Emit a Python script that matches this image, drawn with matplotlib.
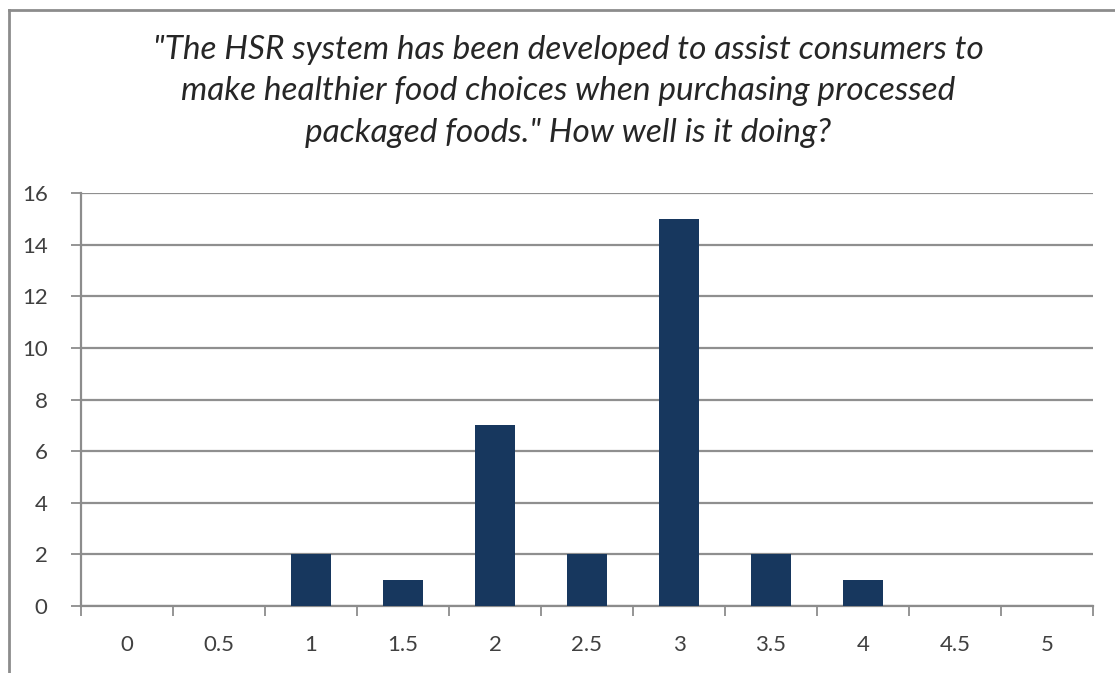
import matplotlib
matplotlib.use("Agg")
import matplotlib.pyplot as plt
from matplotlib.lines import Line2D

categories = ["0", "0.5", "1", "1.5", "2", "2.5", "3", "3.5", "4", "4.5", "5"]
counts = [0, 0, 2, 1, 7, 2, 15, 2, 1, 0, 0]
yticks = [0, 2, 4, 6, 8, 10, 12, 14, 16]
title = ('"The HSR system has been developed to assist consumers to\n'
         'make healthier food choices when purchasing processed\n'
         'packaged foods." How well is it doing?')

plt.rcParams['font.family'] = ['Lato', 'DejaVu Sans']

fig = plt.figure(figsize=(11.15, 6.73), dpi=100)
ax = fig.add_axes([81/1115, 1-606/673, (1093-81)/1115, (606-193)/673])

x = list(range(len(categories)))
ax.bar(x, counts, width=0.43, color='#17375E', zorder=3)
ax.set_xlim(-0.5, len(categories)-0.5)
ax.set_ylim(0, 16)
ax.set_yticks(yticks)
ax.set_yticklabels([str(v) for v in yticks], fontsize=16, color='#404040')
ax.set_xticks(x)
ax.set_xticklabels(categories, fontsize=16, color='#404040')
ax.tick_params(axis='x', length=0, pad=21)
ax.tick_params(axis='y', length=7, width=1.3, color='#8c8c8c', pad=17)
ax.set_xticks([i - 0.5 for i in range(len(categories)+1)], minor=True)
ax.tick_params(axis='x', which='minor', length=7, width=1.3, color='#8c8c8c', direction='out')

ax.grid(axis='y', color='#8f8f8f', linewidth=1.6, zorder=0)
for s in ['top', 'right']:
    ax.spines[s].set_visible(False)
for s in ['left', 'bottom']:
    ax.spines[s].set_color('#8c8c8c')
    ax.spines[s].set_linewidth(1.6)

fig.text(568/1115, 1-35/673, title, ha='center', va='top', fontsize=24,
         style='italic', color='#262626', linespacing=1.47)

# outer chart border (left and top edges visible)
fig.add_artist(Line2D([8.5/1115, 8.5/1115], [0, 1-9.5/673], transform=fig.transFigure,
                      color='#8c8c8c', linewidth=2))
fig.add_artist(Line2D([8.5/1115, 1], [1-9.5/673, 1-9.5/673], transform=fig.transFigure,
                      color='#8c8c8c', linewidth=2))

fig.savefig('out.png', dpi=100)
